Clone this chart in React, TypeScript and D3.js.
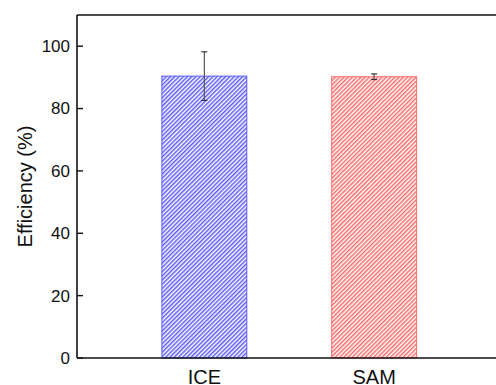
import React from "react";
import * as d3 from "d3";

const categories = ["ICE", "SAM"];
const values = [90.4, 90.2];
const errors = [7.8, 0.9];
const colors = ["#5a5aff", "#ff6a6a"];
const yTicks = [0, 20, 40, 60, 80, 100];

export default function App() {
  const W = 496, H = 385;
  const left = 77, top = 15, bottom = 358, right = 501.5;
  const x = d3.scaleLinear().domain([0.25, 2.75]).range([left, right]);
  const y = d3.scaleLinear().domain([0, 110]).range([bottom, top]);
  const bw = x(1.5) - x(1);
  return (
    <svg width={W} height={H} style={{ position: "absolute", left: 0, top: 0, fontFamily: "Liberation Sans, Arial, sans-serif" }}>
      <defs>
        {categories.map((c, i) => (
          <pattern key={c} id={`hatch${i}`} patternUnits="userSpaceOnUse" width={3} height={3} patternTransform="rotate(45)">
            <rect width={3} height={3} fill="white" />
            <line x1={0.75} y1={0} x2={0.75} y2={3} stroke={colors[i]} strokeWidth={1.5} />
          </pattern>
        ))}
      </defs>
      {categories.map((c, i) => {
        const cx = x(i + 1);
        return (
          <g key={c}>
            <rect x={cx - bw / 2} y={y(values[i])} width={bw} height={y(0) - y(values[i])} fill={`url(#hatch${i})`} stroke={colors[i]} strokeWidth={1} />
            <line x1={cx} x2={cx} y1={y(values[i] + errors[i])} y2={y(values[i] - errors[i])} stroke="#555" strokeWidth={1.2} />
            <line x1={cx - 3} x2={cx + 3} y1={y(values[i] + errors[i])} y2={y(values[i] + errors[i])} stroke="#333" strokeWidth={1.2} />
            <line x1={cx - 3} x2={cx + 3} y1={y(values[i] - errors[i])} y2={y(values[i] - errors[i])} stroke="#333" strokeWidth={1.2} />
            <text x={cx} y={383.5} textAnchor="middle" fontSize={20} fill="#111">{c}</text>
          </g>
        );
      })}
      <line x1={left} x2={W} y1={top} y2={top} stroke="#111" strokeWidth={1.6} />
      <line x1={left} x2={left} y1={top} y2={bottom} stroke="#111" strokeWidth={1.6} />
      <line x1={left} x2={W} y1={bottom} y2={bottom} stroke="#111" strokeWidth={1.6} />
      {yTicks.map((t) => (
        <g key={t}>
          <line x1={left} x2={left + 6} y1={y(t)} y2={y(t)} stroke="#111" strokeWidth={1.4} />
          <text x={left - 7} y={y(t)} dy="0.35em" textAnchor="end" fontSize={17} fill="#111">{t}</text>
        </g>
      ))}
      <text transform={`translate(32,${(top + bottom) / 2}) rotate(-90)`} textAnchor="middle" fontSize={20} fill="#111">Efficiency (%)</text>
    </svg>
  );
}
